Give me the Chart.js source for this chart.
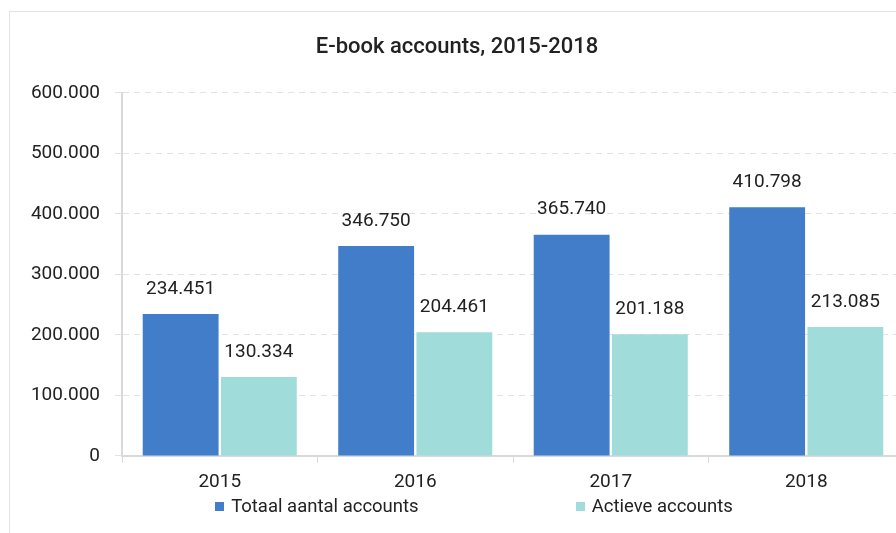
<!DOCTYPE html>
<html>
<head>
<meta charset="utf-8">
<script src="https://cdn.jsdelivr.net/npm/chart.js@4.4.1/dist/chart.umd.min.js"></script>
<style>
    html, body { margin: 0; padding: 0; overflow: hidden; background: #fff; }
    #frame { position: absolute; left: 9px; top: 11px; width: 1000px; height: 1000px; border: 1px solid #e3e3e3; }
    #wrap { position: absolute; left: 10px; top: 12px; width: 894px; height: 530px; }
    #legend { position: absolute; left: 0; top: 495px; width: 948px; display: flex; justify-content: center; gap: 157px;
              font-family: Roboto, sans-serif; font-size: 18.5px; color: #222; }
    #legend .item { display: flex; align-items: center; white-space: nowrap; }
    #legend .box { width: 9px; height: 9px; margin-right: 7px; }
</style>
</head>
<body>
<div id="frame"></div>
<div id="wrap"><canvas id="barchart"></canvas></div>
<div id="legend"></div>
<script>
const years = ['2015', '2016', '2017', '2018'];
const totaal = [234451, 346750, 365740, 410798];
const actief = [130334, 204461, 201188, 213085];
const seriesNames = ['Totaal aantal accounts', 'Actieve accounts'];
const seriesColors = ['#417dc9', '#a0dcda'];
const yTicks = [0, 100000, 200000, 300000, 400000, 500000, 600000];

const textColor = '#222';
const fontFamily = 'Roboto, sans-serif';

function formatNL(v) {
    return String(v).replace(/\B(?=(\d{3})+(?!\d))/g, '.');
}

// value labels above each bar
const valueLabels = {
    id: 'valueLabels',
    afterDatasetsDraw(chart) {
        const ctx = chart.ctx;
        ctx.save();
        ctx.font = '19px ' + fontFamily;
        ctx.fillStyle = textColor;
        ctx.textAlign = 'center';
        ctx.textBaseline = 'middle';
        chart.data.datasets.forEach((ds, i) => {
            chart.getDatasetMeta(i).data.forEach((bar, j) => {
                ctx.fillText(formatNL(ds.data[j]), bar.x, bar.y - 25);
            });
        });
        ctx.restore();
    }
};

const chart = new Chart('barchart', {
    type: 'bar',
    data: {
        labels: years,
        datasets: [{
            label: seriesNames[0],
            data: totaal,
            backgroundColor: seriesColors[0],
            barPercentage: 0.97,
            categoryPercentage: 0.8
        }, {
            label: seriesNames[1],
            data: actief,
            backgroundColor: seriesColors[1],
            barPercentage: 0.97,
            categoryPercentage: 0.8
        }]
    },
    options: {
        responsive: true,
        maintainAspectRatio: false,
        animation: false,
        layout: { padding: { left: 0, right: 0, top: 0, bottom: 41.3 } },
        plugins: {
            legend: { display: false },
            tooltip: { enabled: false },
            title: {
                display: true,
                text: 'E-book accounts, 2015-2018',
                color: textColor,
                font: { family: fontFamily, size: 22, weight: '500' },
                padding: { top: 22.5, bottom: 32 }
            }
        },
        scales: {
            x: {
                grid: { drawOnChartArea: false, tickLength: 7, color: '#d9d9d9' },
                border: { color: '#d9d9d9', width: 2 },
                ticks: { color: textColor, font: { family: fontFamily, size: 19 }, padding: 7.5 }
            },
            y: {
                min: 0,
                max: 600000,
                afterFit: (scale) => { scale.width = 112; },
                afterBuildTicks: (scale) => { scale.ticks = yTicks.map(v => ({ value: v })); },
                grid: { color: '#e2e2e2', tickLength: 7, tickColor: '#e2e2e2' },
                border: { color: '#d9d9d9', width: 2, dash: [6, 5] },
                ticks: {
                    color: textColor,
                    font: { family: fontFamily, size: 19 },
                    padding: 15,
                    callback: (v) => formatNL(v)
                }
            }
        }
    },
    plugins: [valueLabels]
});

// html legend built from the datasets
const legendEl = document.getElementById('legend');
chart.data.datasets.forEach(ds => {
    const item = document.createElement('div');
    item.className = 'item';
    const box = document.createElement('span');
    box.className = 'box';
    box.style.background = ds.backgroundColor;
    item.appendChild(box);
    item.appendChild(document.createTextNode(ds.label));
    legendEl.appendChild(item);
});
</script>
</body>
</html>
